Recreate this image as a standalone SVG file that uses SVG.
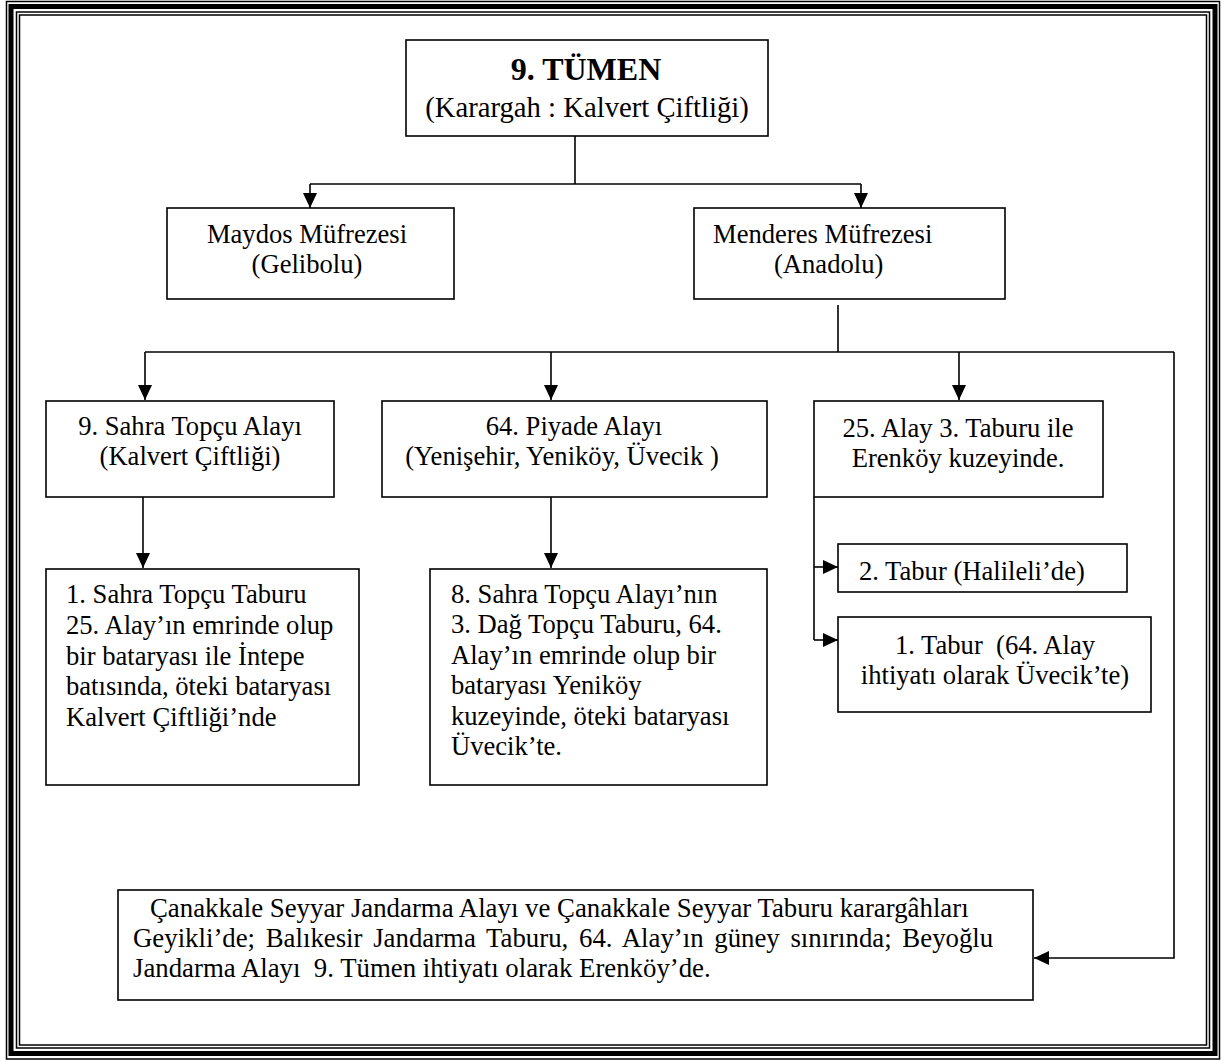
<svg xmlns="http://www.w3.org/2000/svg" width="1226" height="1061" viewBox="0 0 1226 1061">
<style>
.bx{fill:#fff;stroke:#000;stroke-width:1.6}
.bd{fill:none;stroke:#000}
.cn{fill:none;stroke:#000;stroke-width:1.6}
text{font-family:"Liberation Serif","Times New Roman",serif;font-size:26.6px;fill:#000}
.c{text-anchor:middle}
.j{font-size:26.8px}
</style>
<defs>
<marker id="ah" markerUnits="userSpaceOnUse" markerWidth="15" markerHeight="14" refX="15" refY="7" orient="auto">
<path d="M0,0 L15,7 L0,14 z" fill="#000"/>
</marker>
</defs>
<rect width="1226" height="1061" fill="#fff"/>
<g id="border">
<rect class="bd" x="6.5" y="1.5" width="1213" height="1057.5" stroke-width="1.5"/>
<rect class="bd" x="11" y="6.5" width="1204" height="1047" stroke-width="5"/>
<rect class="bd" x="16.5" y="12" width="1193" height="1036" stroke-width="1.5"/>
<rect class="bd" x="19.5" y="15" width="1187" height="1030" stroke-width="1.5"/>
</g>
<g id="connectors">
<path class="cn" d="M575,136 V184"/>
<path class="cn" d="M310,184 H861"/>
<path class="cn" d="M310,184 V208" marker-end="url(#ah)"/>
<path class="cn" d="M861,184 V208" marker-end="url(#ah)"/>
<path class="cn" d="M838,305 V352"/>
<path class="cn" d="M145,352 H1174"/>
<path class="cn" d="M145,352 V400" marker-end="url(#ah)"/>
<path class="cn" d="M551,352 V400" marker-end="url(#ah)"/>
<path class="cn" d="M959,352 V400" marker-end="url(#ah)"/>
<path class="cn" d="M1174,352 V958 H1034" marker-end="url(#ah)"/>
<path class="cn" d="M143,497 V568" marker-end="url(#ah)"/>
<path class="cn" d="M551,497 V568" marker-end="url(#ah)"/>
<path class="cn" d="M814,497 V640"/>
<path class="cn" d="M814,567 H838" marker-end="url(#ah)"/>
<path class="cn" d="M814,640 H838" marker-end="url(#ah)"/>
</g>
<g id="n-tumen">
<rect class="bx" x="406" y="40" width="362" height="96"/>
<text class="c" x="586" y="80" style="font-size:32px;font-weight:bold">9. TÜMEN</text>
<text class="c" x="587" y="117" style="font-size:28.7px">(Karargah : Kalvert Çiftliği)</text>
</g>
<g id="n-maydos">
<rect class="bx" x="167" y="208" width="287" height="91"/>
<text class="c" x="307" y="243">Maydos Müfrezesi</text>
<text class="c" x="307" y="273">(Gelibolu)</text>
</g>
<g id="n-menderes">
<rect class="bx" x="694" y="208" width="311" height="91"/>
<text x="713" y="243">Menderes Müfrezesi</text>
<text x="774" y="273">(Anadolu)</text>
</g>
<g id="n-sahra9">
<rect class="bx" x="46" y="401" width="288" height="96"/>
<text class="c" x="190" y="435">9. Sahra Topçu Alayı</text>
<text class="c" x="190" y="465">(Kalvert Çiftliği)</text>
</g>
<g id="n-piyade64">
<rect class="bx" x="382" y="401" width="385" height="96"/>
<text class="c" x="574" y="435">64. Piyade Alayı</text>
<text class="c" x="562" y="465">(Yenişehir, Yeniköy, Üvecik )</text>
</g>
<g id="n-alay25">
<rect class="bx" x="814" y="401" width="289" height="96"/>
<text class="c" x="958" y="437">25. Alay 3. Taburu ile</text>
<text class="c" x="958" y="467">Erenköy kuzeyinde.</text>
</g>
<g id="n-sahra1">
<rect class="bx" x="46" y="569" width="313" height="216"/>
<text x="66" y="603">1. Sahra Topçu Taburu</text>
<text x="66" y="634">25. Alay’ın emrinde olup</text>
<text x="66" y="665">bir bataryası ile İntepe</text>
<text x="66" y="695">batısında, öteki bataryası</text>
<text x="66" y="726">Kalvert Çiftliği’nde</text>
</g>
<g id="n-sahra8">
<rect class="bx" x="430" y="569" width="337" height="216"/>
<text x="451" y="603">8. Sahra Topçu Alayı’nın</text>
<text x="451" y="633">3. Dağ Topçu Taburu, 64.</text>
<text x="451" y="664">Alay’ın emrinde olup bir</text>
<text x="451" y="694">bataryası Yeniköy</text>
<text x="451" y="725">kuzeyinde, öteki bataryası</text>
<text x="451" y="755">Üvecik’te.</text>
</g>
<g id="n-tabur2">
<rect class="bx" x="838" y="544" width="289" height="48"/>
<text x="859" y="580">2. Tabur (Halileli’de)</text>
</g>
<g id="n-tabur1">
<rect class="bx" x="838" y="617" width="313" height="95"/>
<text class="c" x="995" y="654" xml:space="preserve">1. Tabur  (64. Alay</text>
<text class="c" x="995" y="684">ihtiyatı olarak Üvecik’te)</text>
</g>
<g id="n-jandarma">
<rect class="bx" x="118" y="890" width="915" height="110"/>
<text class="j" x="150" y="917">Çanakkale Seyyar Jandarma Alayı ve Çanakkale Seyyar Taburu karargâhları</text>
<text class="j" x="133" y="947" style="word-spacing:4px">Geyikli’de; Balıkesir Jandarma Taburu, 64. Alay’ın güney sınırında; Beyoğlu</text>
<text class="j" x="133" y="977" xml:space="preserve">Jandarma Alayı  9. Tümen ihtiyatı olarak Erenköy’de.</text>
</g>
</svg>
